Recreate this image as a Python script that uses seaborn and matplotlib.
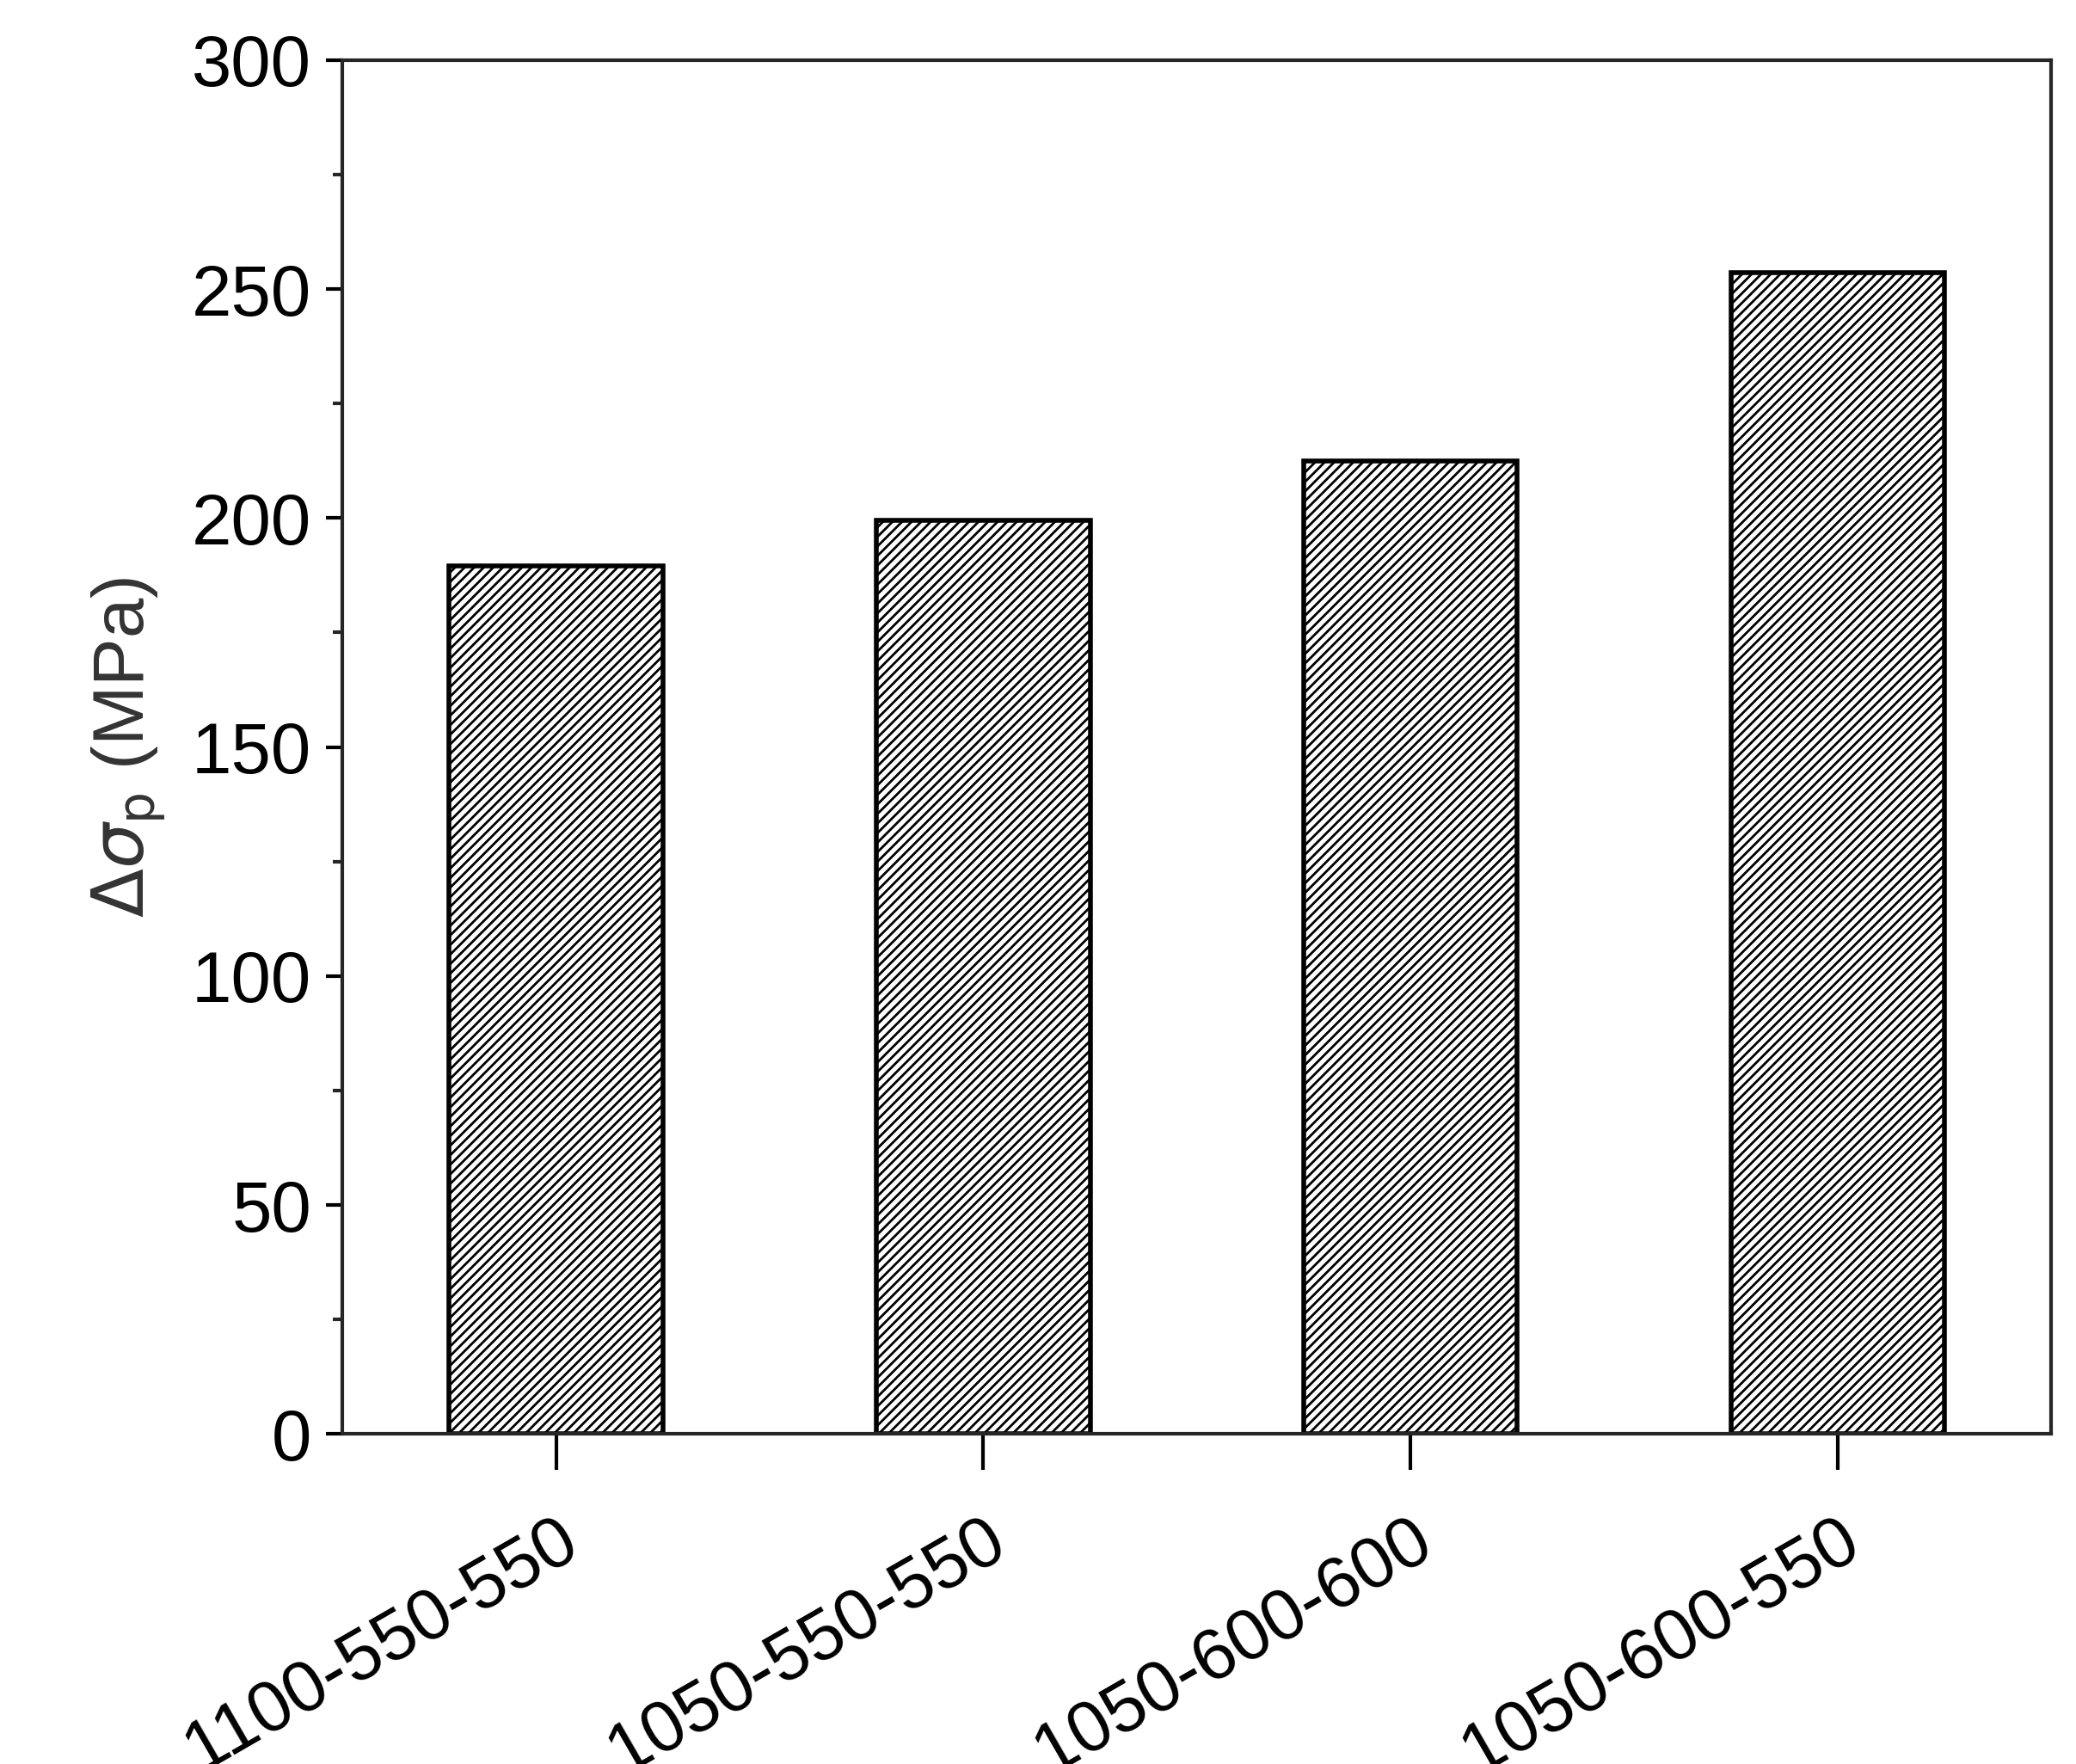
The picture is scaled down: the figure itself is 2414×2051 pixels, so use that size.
import matplotlib
matplotlib.use('Agg')
import matplotlib.pyplot as plt
import seaborn as sns
import pandas as pd
from matplotlib.ticker import MultipleLocator

categories = ['1100-550-550', '1050-550-550', '1050-600-600', '1050-600-550']
values = [189.5, 199.5, 212.5, 253.5]

sns.set_style('ticks')
plt.rcParams['font.family'] = ['Liberation Sans', 'DejaVu Sans']
plt.rcParams['hatch.linewidth'] = 2.0

df = pd.DataFrame({'cond': categories, 'val': values})

fig = plt.figure(figsize=(24.14, 20.51), dpi=100)
ax = fig.add_axes([0.165, 0.187, 0.823, 0.779])
sns.barplot(data=df, x='cond', y='val', color='white', edgecolor='black',
            linewidth=4, width=0.5, hatch='///', ax=ax)

ax.set_ylim(0, 300)
ax.set_xlim(-0.5, 3.5)
ax.yaxis.set_major_locator(MultipleLocator(50))
ax.yaxis.set_minor_locator(MultipleLocator(25))
for s in ax.spines.values():
    s.set_linewidth(3)
    s.set_visible(True)
ax.tick_params(axis='both', which='major', direction='out', length=14, width=3,
               labelsize=60, colors='black', pad=12)
ax.tick_params(axis='x', which='major', length=30, pad=30)
ax.tick_params(axis='y', which='minor', direction='out', length=8, width=3)
plt.setp(ax.get_xticklabels(), rotation=30, ha='right', rotation_mode='anchor')
ax.set_xlabel('')
ax.set_ylabel(r'$\Delta\sigma_{\rm p}$ (MPa)', fontsize=60, color='#333333', labelpad=20)

fig.savefig('out.png', dpi=100)
